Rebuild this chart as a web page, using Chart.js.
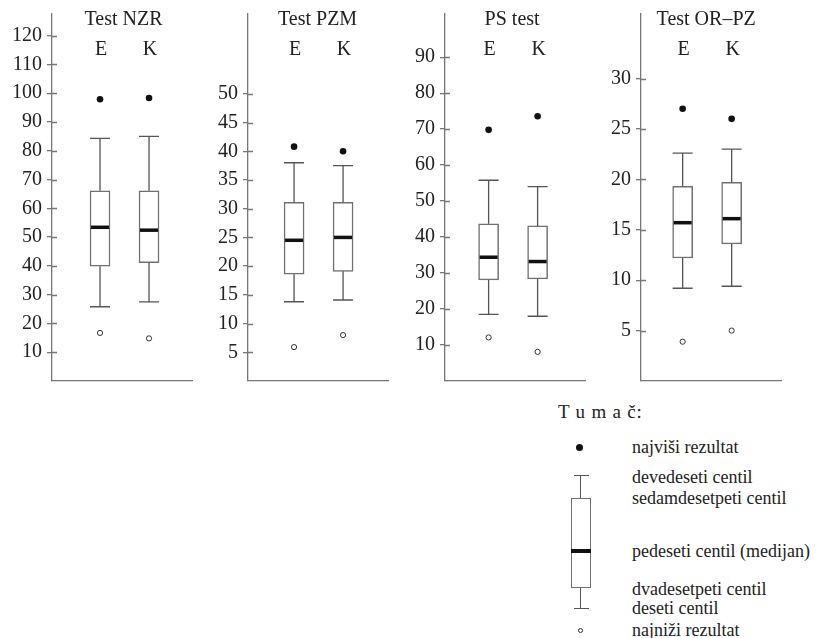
<!DOCTYPE html>
<html>
<head>
<meta charset="utf-8">
<script src="https://cdn.jsdelivr.net/npm/chart.js@4.4.1/dist/chart.umd.min.js"></script>
<style>
  body { margin: 0; background: #fff; }
  #wrap { position: relative; width: 821px; height: 638px; font-family: "Liberation Serif", "Times New Roman", serif; color: #222; }
  canvas { position: absolute; top: 0; }
  .lg { position: absolute; font-size: 18px; line-height: 18px; white-space: nowrap; }
  .mk { position: absolute; box-sizing: border-box; }
</style>
</head>
<body>
<div id="wrap">
  <canvas id="c1" width="200" height="390" style="left:0px"></canvas>
  <canvas id="c2" width="200" height="390" style="left:196px"></canvas>
  <canvas id="c3" width="200" height="390" style="left:393px"></canvas>
  <canvas id="c4" width="200" height="390" style="left:589px"></canvas>

  <!-- tumač (legend) -->
  <div class="lg" style="left:558px; top:402px; font-size:19px; line-height:19px; letter-spacing:0.8px">T u m a č:</div>
  <div class="mk" style="left:576px; top:443.5px; width:7px; height:7px; border-radius:50%; background:#111"></div>
  <div class="mk" style="left:574px; top:474.5px; width:15px; height:1.3px; background:#555"></div>
  <div class="mk" style="left:579.5px; top:475px; width:1.3px; height:23px; background:#555"></div>
  <div class="mk" style="left:571px; top:497.5px; width:20px; height:90.5px; border:1.5px solid #707070; background:#fff"></div>
  <div class="mk" style="left:571px; top:549px; width:20px; height:3.5px; background:#111"></div>
  <div class="mk" style="left:579.5px; top:588px; width:1.3px; height:20px; background:#555"></div>
  <div class="mk" style="left:574px; top:607.5px; width:15px; height:1.3px; background:#555"></div>
  <div class="mk" style="left:577.5px; top:627.5px; width:5.5px; height:5.5px; border-radius:50%; border:1px solid #333"></div>

  <div class="lg" style="left:632px; top:437.5px">najviši rezultat</div>
  <div class="lg" style="left:632px; top:467.5px">devedeseti centil</div>
  <div class="lg" style="left:632px; top:488.5px">sedamdesetpeti centil</div>
  <div class="lg" style="left:632px; top:541.5px">pedeseti centil (medijan)</div>
  <div class="lg" style="left:632px; top:579.5px">dvadesetpeti centil</div>
  <div class="lg" style="left:632px; top:598.5px">deseti centil</div>
  <div class="lg" style="left:632px; top:620.5px">najniži rezultat</div>
</div>

<script>
var groups = ['E', 'K'];
var titles = ['Test NZR', 'Test PZM', 'PS test', 'Test OR–PZ'];

// each list: najniži, 10. centil, 25. centil, medijan, 75. centil, 90. centil, najviši
var nzrE = [16.7, 25.8, 39.9, 53.4, 66.1, 84.3, 97.9];
var nzrK = [14.8, 27.5, 41.1, 52.4, 66.1, 85.0, 98.3];
var pzmE = [5.9, 13.8, 18.6, 24.5, 31.1, 38.0, 40.8];
var pzmK = [8.0, 14.1, 19.1, 25.0, 31.1, 37.5, 40.0];
var psE = [12.1, 18.5, 28.1, 34.4, 43.7, 55.8, 69.8];
var psK = [8.1, 18.0, 28.4, 33.2, 43.1, 54.0, 73.6];
var orpzE = [3.9, 9.2, 12.2, 15.7, 19.3, 22.6, 27.0];
var orpzK = [5.0, 9.4, 13.6, 16.1, 19.7, 23.0, 26.0];

// tick labels on the y axes
var nzrTicks = [10, 20, 30, 40, 50, 60, 70, 80, 90, 100, 110, 120];
var pzmTicks = [5, 10, 15, 20, 25, 30, 35, 40, 45, 50];
var psTicks = [10, 20, 30, 40, 50, 60, 70, 80, 90];
var orpzTicks = [5, 10, 15, 20, 25, 30];

Chart.defaults.font.family = '"Liberation Serif", "Times New Roman", serif';
Chart.defaults.color = '#222';

var axisColor = '#777';

function boxExtras(title, stats) {
  return {
    id: 'boxExtras',
    afterDatasetsDraw: function (chart) {
      var ctx = chart.ctx;
      var xs = chart.scales.x, ys = chart.scales.y;
      var half = 10;
      ctx.save();
      stats.forEach(function (s, i) {
        var x = xs.getPixelForValue(i + 1);
        // whiskers + caps
        ctx.strokeStyle = '#555';
        ctx.lineWidth = 1.3;
        ctx.beginPath();
        ctx.moveTo(x, ys.getPixelForValue(s[4]));
        ctx.lineTo(x, ys.getPixelForValue(s[5]));
        ctx.moveTo(x, ys.getPixelForValue(s[2]));
        ctx.lineTo(x, ys.getPixelForValue(s[1]));
        ctx.moveTo(x - half, ys.getPixelForValue(s[5]));
        ctx.lineTo(x + half, ys.getPixelForValue(s[5]));
        ctx.moveTo(x - half, ys.getPixelForValue(s[1]));
        ctx.lineTo(x + half, ys.getPixelForValue(s[1]));
        ctx.stroke();
        // median
        ctx.strokeStyle = '#111';
        ctx.lineWidth = 3.5;
        ctx.beginPath();
        ctx.moveTo(x - half + 1, ys.getPixelForValue(s[3]));
        ctx.lineTo(x + half - 1, ys.getPixelForValue(s[3]));
        ctx.stroke();
      });
      // inner half of the tick marks
      ctx.strokeStyle = axisColor;
      ctx.lineWidth = 1.3;
      ctx.beginPath();
      ys.ticks.forEach(function (t) {
        var y = Math.round(ys.getPixelForValue(t.value)) + 0.5;
        ctx.moveTo(chart.chartArea.left, y);
        ctx.lineTo(chart.chartArea.left + 5, y);
      });
      ctx.stroke();
      // title and group labels
      ctx.fillStyle = '#222';
      ctx.font = '20px "Liberation Serif"';
      ctx.textAlign = 'center';
      ctx.textBaseline = 'alphabetic';
      ctx.fillText(title, (xs.getPixelForValue(1) + xs.getPixelForValue(2)) / 2 - 1, 25);
      groups.forEach(function (g, i) {
        ctx.fillText(g, xs.getPixelForValue(i + 1) + 1, 55);
      });
      ctx.restore();
    }
  };
}

function makePanel(id, title, stats, ticks, yMax, xMin) {
  new Chart(document.getElementById(id), {
    type: 'bar',
    data: {
      datasets: [
        {
          type: 'bar',
          data: stats.map(function (s, i) { return { x: i + 1, y: [s[2], s[4]] }; }),
          backgroundColor: '#fff',
          borderColor: '#707070',
          borderWidth: 1.5,
          borderSkipped: false,
          barThickness: 20
        },
        {
          type: 'scatter',
          data: stats.map(function (s, i) { return { x: i + 1, y: s[6] }; }),
          pointRadius: 3.3,
          backgroundColor: '#111',
          borderColor: '#111',
          borderWidth: 0
        },
        {
          type: 'scatter',
          data: stats.map(function (s, i) { return { x: i + 1, y: s[0] }; }),
          pointRadius: 2.6,
          backgroundColor: '#fff',
          borderColor: '#333',
          borderWidth: 1
        }
      ]
    },
    options: {
      responsive: false,
      animation: false,
      layout: { padding: { top: 14, bottom: 9, left: 0, right: 8 } },
      plugins: { legend: { display: false }, tooltip: { enabled: false } },
      scales: {
        x: {
          type: 'linear',
          min: xMin,
          max: xMin + 2.857,
          offset: false,
          ticks: { display: false },
          grid: { display: false, drawTicks: false },
          border: { display: true, color: axisColor, width: 1.3 },
          afterFit: function (s) { s.height = 0; s.paddingLeft = 0; s.paddingRight = 0; }
        },
        y: {
          min: 0,
          max: yMax,
          afterBuildTicks: function (s) { s.ticks = ticks.map(function (v) { return { value: v }; }); },
          afterFit: function (s) { s.width = 52; s.paddingTop = 0; s.paddingBottom = 0; },
          border: { color: axisColor, width: 1.3 },
          grid: { drawOnChartArea: false, tickLength: 5, color: axisColor, lineWidth: 1.3 },
          ticks: { autoSkip: false, padding: 5, color: '#222', font: { size: 20 } }
        }
      }
    },
    plugins: [boxExtras(title, stats)]
  });
}

makePanel('c1', titles[0], [nzrE, nzrK], nzrTicks, 127.5, 0.02);
makePanel('c2', titles[1], [pzmE, pzmK], pzmTicks, 63.9, 0.06);
makePanel('c3', titles[2], [psE, psK], psTicks, 102, 0.11);
makePanel('c4', titles[3], [orpzE, orpzK], orpzTicks, 36.4, 0.15);
</script>
</body>
</html>
